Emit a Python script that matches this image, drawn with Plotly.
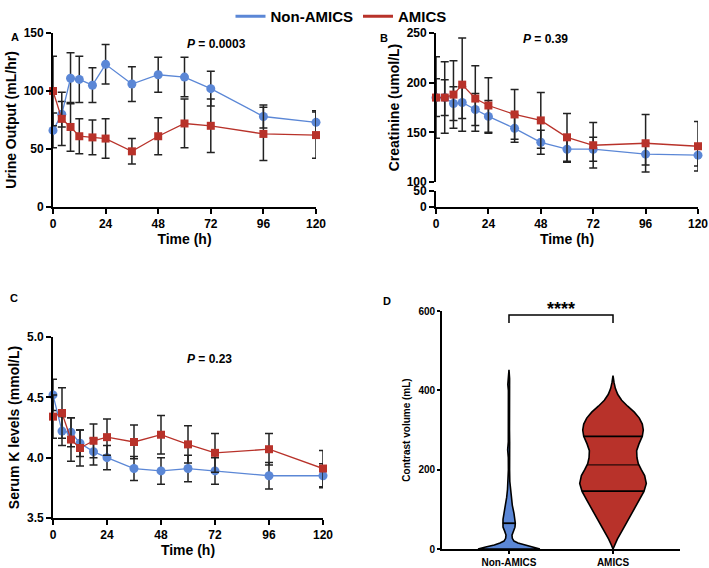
import numpy as np
import plotly.graph_objects as go

hours = [0, 4, 8, 12, 18, 24, 36, 48, 60, 72, 96, 120]

urine_non = [66, 80, 111, 110, 105, 123, 106, 114, 112, 102, 78, 73]
urine_non_err = [15, 11, 22, 20, 15, 17, 15, 15, 17, 15, 10, 10]
urine_amics = [100, 76, 69, 61, 60, 59, 48, 61, 72, 70, 63, 62]
urine_amics_err = [30, 23, 21, 15, 15, 17, 11, 16, 21, 23, 23, 20]

creat_non = [185, 185, 179, 180, 173, 166, 154, 140, 133, 133, 128, 127]
creat_non_err = [19, 18, 17, 16, 16, 16, 14, 12, 13, 12, 11, 11]
creat_amics = [185, 185, 188, 198, 184, 177, 168, 162, 145, 137, 139, 136]
creat_amics_err = [41, 36, 34, 47, 33, 28, 25, 28, 24, 23, 29, 25]

k_non = [4.52, 4.22, 4.21, 4.12, 4.05, 4.00, 3.91, 3.89, 3.91, 3.89, 3.85, 3.85]
k_non_err = [0.13, 0.12, 0.12, 0.11, 0.11, 0.10, 0.10, 0.11, 0.11, 0.11, 0.11, 0.10]
k_amics = [4.34, 4.37, 4.15, 4.08, 4.14, 4.17, 4.13, 4.19, 4.11, 4.04, 4.07, 3.91]
k_amics_err = [0.18, 0.21, 0.18, 0.15, 0.14, 0.15, 0.14, 0.16, 0.155, 0.16, 0.13, 0.15]

p_values = ["0.0003", "0.39", "0.23"]

# contrast volume violin outlines (value, relative width)
groups = ["Non-AMICS", "AMICS"]
vol_non = [0, 5, 10, 15, 20, 27, 35, 45, 55, 65, 75, 90, 110, 130, 150, 170, 200,
           230, 250, 270, 300, 350, 400, 415, 430, 452]
dens_non = [0.93, 0.7, 0.44, 0.27, 0.15, 0.1, 0.09, 0.13, 0.18, 0.19, 0.18, 0.15, 0.1,
            0.07, 0.045, 0.025, 0.018, 0.02, 0.04, 0.02, 0.015, 0.015, 0.018, 0.035, 0.018, 0]
vol_amics = [0, 10, 25, 50, 75, 100, 125, 145, 165, 185, 200, 215, 230, 248, 265, 284,
             300, 315, 330, 345, 360, 375, 390, 405, 420, 437]
dens_amics = [0, 0.05, 0.13, 0.3, 0.47, 0.63, 0.8, 0.93, 1.0, 0.95, 0.85, 0.76, 0.72, 0.71,
              0.78, 0.88, 0.91, 0.88, 0.79, 0.64, 0.44, 0.26, 0.14, 0.07, 0.03, 0]
non_lines = [65]
amics_lines = [146, 212, 284]
sig_y, sig_leg = 590, 570

BLUE = "#5b87d6"
RED = "#b8322a"
INK = "#222222"
W, H = 709, 568


def px(x):
    return x / W


def py(y):
    return 1 - y / H


fig = go.Figure()


def add_series(x, y, err, color, symbol, size, xa, ya):
    fig.add_trace(go.Scatter(
        x=x, y=y, xaxis=xa, yaxis=ya, mode="lines+markers", showlegend=False,
        line=dict(color=color, width=1.3),
        marker=dict(color=color, symbol=symbol, size=size),
        error_y=dict(type="data", array=err, color=INK, thickness=1.5, width=4),
        cliponaxis=False,
    ))


add_series(hours, urine_non, urine_non_err, BLUE, "circle", 9, "x", "y")
add_series(hours, urine_amics, urine_amics_err, RED, "square", 8, "x", "y")
add_series(hours, creat_non, creat_non_err, BLUE, "circle", 9, "x2", "y2")
add_series(hours, creat_amics, creat_amics_err, RED, "square", 8, "x2", "y2")
add_series(hours, k_non, k_non_err, BLUE, "circle", 9, "x3", "y4")
add_series(hours, k_amics, k_amics_err, RED, "square", 8, "x3", "y4")

# keeps the lower (broken) creatinine axis drawn
fig.add_trace(go.Scatter(x=[None], y=[None], xaxis="x2", yaxis="y3", showlegend=False))

# legend entries
for name, color in [("Non-AMICS", BLUE), ("AMICS", RED)]:
    fig.add_trace(go.Scatter(x=[None], y=[None], mode="lines", name=name,
                             line=dict(color=color, width=3)))

# violins
half = 0.32
for pos, vals, dens, fill, lines in [(1, vol_non, dens_non, BLUE, non_lines),
                                     (2, vol_amics, dens_amics, RED, amics_lines)]:
    d = np.array(dens) * half
    v = np.array(vals)
    xs = np.concatenate([pos + d, (pos - d)[::-1], [pos + d[0]]])
    ys = np.concatenate([v, v[::-1], [v[0]]])
    fig.add_trace(go.Scatter(x=xs, y=ys, xaxis="x4", yaxis="y5", mode="lines",
                             fill="toself", fillcolor=fill, showlegend=False,
                             line=dict(color="black", width=1.6), cliponaxis=False))
    for i, lv in enumerate(lines):
        w = np.interp(lv, vals, dens) * half
        thick = 1 if (len(lines) == 3 and i == 1) else 1.8
        fig.add_trace(go.Scatter(x=[pos - w, pos + w], y=[lv, lv], xaxis="x4", yaxis="y5",
                                 mode="lines", showlegend=False,
                                 line=dict(color="black", width=thick)))

fig.add_trace(go.Scatter(x=[1, 1, 2, 2], y=[sig_leg, sig_y, sig_y, sig_leg], xaxis="x4",
                         yaxis="y5", mode="lines", showlegend=False,
                         line=dict(color="black", width=1.5), cliponaxis=False))

axis_style = dict(showline=True, linecolor="black", linewidth=1.8, ticks="outside",
                  ticklen=5, tickwidth=1.8, tickcolor="black", showgrid=False,
                  zeroline=False, automargin=False, tickfont=dict(size=12, color="black"))
small_axis = {**axis_style, "tickfont": dict(size=10, color="black"), "ticklen": 3}
title_font = dict(size=14, color="black")

xdom_a = [px(53), px(316)]
xdom_b = [px(436), px(698)]
xdom_c = [px(53), px(323)]
xdom_d = [px(442), px(680)]
hour_ticks = [0, 24, 48, 72, 96, 120]

fig.update_layout(
    width=W, height=H, margin=dict(l=0, r=0, t=0, b=0, autoexpand=False),
    paper_bgcolor="white", plot_bgcolor="white",
    font=dict(family="Liberation Sans, Arial, sans-serif", color="black", weight="bold"),
    legend=dict(orientation="h", x=px(341), xanchor="center", y=py(0), yanchor="top",
                font=dict(size=15), itemwidth=30, bgcolor="rgba(0,0,0,0)"),
    xaxis=dict(domain=xdom_a, anchor="y", range=[0, 120], tickvals=hour_ticks,
               title=dict(text="Time (h)", font=title_font, standoff=3), **axis_style),
    yaxis=dict(domain=[py(207), py(33)], anchor="x", range=[0, 150], tickvals=[0, 50, 100, 150],
               title=dict(text="Urine Output (mL/hr)", font=title_font, standoff=4), **axis_style),
    xaxis2=dict(domain=xdom_b, anchor="y3", range=[0, 120], tickvals=hour_ticks,
                title=dict(text="Time (h)", font=title_font, standoff=3), **axis_style),
    yaxis2=dict(domain=[py(182), py(33)], anchor="x2", range=[100, 250],
                tickvals=[100, 150, 200, 250],
                title=dict(text="Creatinine (umol/L)", font=title_font, standoff=4), **axis_style),
    yaxis3=dict(domain=[py(207), py(191)], anchor="x2", range=[0, 50], tickvals=[0, 50],
                **axis_style),
    xaxis3=dict(domain=xdom_c, anchor="y4", range=[0, 120], tickvals=hour_ticks,
                title=dict(text="Time (h)", font=title_font, standoff=3), **axis_style),
    yaxis4=dict(domain=[py(518), py(337)], anchor="x3", range=[3.5, 5.0],
                tickvals=[3.5, 4.0, 4.5, 5.0], tickformat=".1f",
                title=dict(text="Serum K levels (mmol/L)", font=title_font, standoff=4), **axis_style),
    xaxis4=dict(domain=xdom_d, anchor="y5", range=[0.356, 2.644], tickvals=[1, 2],
                ticktext=groups, **small_axis),
    yaxis5=dict(domain=[py(549), py(311)], anchor="x4", range=[0, 600],
                tickvals=[0, 200, 400, 600],
                title=dict(text="Contrast volume (mL)", font=dict(size=10, color="black"), standoff=6),
                **small_axis),
)

annotations = [
    dict(text="<i>P</i> = " + p_values[0], x=px(185), y=py(35)),
    dict(text="<i>P</i> = " + p_values[1], x=px(570), y=py(30)),
    dict(text="<i>P</i> = " + p_values[2], x=px(185), y=py(359)),
]
for a in annotations:
    fig.add_annotation(xref="paper", yref="paper", showarrow=False, font=dict(size=12), **a)

for label, x, y in [("A", 9, 29), ("B", 384, 30), ("C", 8, 298), ("D", 387, 301)]:
    fig.add_annotation(text=label, xref="paper", yref="paper", x=px(x), y=py(y),
                       showarrow=False, font=dict(size=11))

fig.add_annotation(text="****", xref="x4", yref="y5", x=1.5, y=sig_y, yanchor="bottom",
                   showarrow=False, font=dict(size=18), yshift=-6)

# drop the page's default body margin so the figure fills the window
fig.write_html("out.html", config={"displayModeBar": False},
               post_script="document.body.style.margin='0';")
